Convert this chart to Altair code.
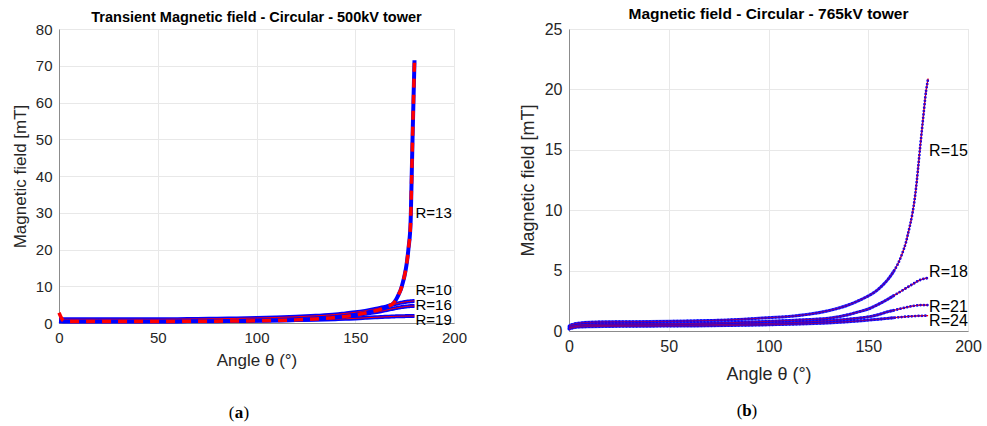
import altair as alt
import pandas as pd

# ---------------- data ----------------
ANG = [0, 1, 2, 3, 5, 10, 20, 30, 40, 50, 60, 70, 80, 90, 100, 110, 120, 130, 140,
       145, 150, 155, 160, 163, 165, 167, 169, 170, 171, 172, 173, 174, 175, 176, 177,
       178, 178.5, 179, 179.5, 180]

# (a) 500 kV tower
A500_R13_BLUE = [0.5, 0.45, 0.42, 0.4, 0.4, 0.4, 0.4, 0.4, 0.4, 0.42, 0.44, 0.46, 0.5, 0.55, 0.6,
                 0.7, 0.85, 1.1, 1.5, 1.8, 2.2, 2.7, 3.3, 3.8, 4.2, 4.6, 5.2,
                 5.8, 6.7, 7.8, 9.0, 10.8, 13.0, 16.0, 20.5, 27.0, 38.0, 50.0, 61.0, 71.5]
A500_R13_RED = [2.8, 1.6, 0.7, 0.45, 0.4, 0.4, 0.4, 0.4, 0.4, 0.42, 0.44, 0.46, 0.5, 0.55, 0.6,
                0.7, 0.85, 1.1, 1.5, 1.8, 2.2, 2.7, 3.3, 3.8, 4.2, 4.6, 5.2,
                5.8, 6.7, 7.8, 9.0, 10.8, 13.0, 16.0, 20.5, 27.0, 38.0, 50.0, 61.0, 71.5]
A500_R10 = [1.0, 1.0, 1.0, 1.0, 1.0, 1.0, 1.0, 1.0, 1.0, 1.0, 1.05, 1.1, 1.15, 1.25, 1.35,
            1.5, 1.7, 1.95, 2.3, 2.6, 2.9, 3.3, 3.8, 4.15, 4.4, 4.7, 5.0,
            5.1, 5.25, 5.4, 5.5, 5.6, 5.7, 5.8, 5.85, 5.9, 5.95, 5.95, 6.0, 6.0]
A500_R16 = [0.7, 0.7, 0.7, 0.7, 0.7, 0.7, 0.7, 0.7, 0.71, 0.72, 0.74, 0.77, 0.81, 0.87, 0.95,
            1.05, 1.2, 1.4, 1.7, 1.9, 2.15, 2.5, 2.9, 3.2, 3.45, 3.65, 3.9,
            4.0, 4.1, 4.2, 4.3, 4.35, 4.45, 4.5, 4.55, 4.6, 4.6, 4.6, 4.6, 4.6]
A500_R19 = [0.5, 0.5, 0.5, 0.5, 0.5, 0.5, 0.5, 0.5, 0.5, 0.5, 0.51, 0.53, 0.56, 0.6, 0.65,
            0.72, 0.8, 0.9, 1.05, 1.15, 1.25, 1.4, 1.55, 1.62, 1.68, 1.73, 1.78,
            1.8, 1.82, 1.84, 1.85, 1.86, 1.87, 1.88, 1.89, 1.9, 1.9, 1.9, 1.9, 1.9]

# (b) 765 kV tower
A765_R15 = [0.4, 0.5, 0.55, 0.6, 0.65, 0.72, 0.76, 0.77, 0.78, 0.8, 0.83, 0.87, 0.92, 1.0, 1.1,
            1.2, 1.38, 1.68, 2.15, 2.5, 2.9, 3.45, 4.3, 5.0, 5.6, 6.4, 7.4,
            8.1, 8.8, 9.6, 10.6, 11.9, 13.5, 15.2, 16.8, 18.4, 19.2, 19.9, 20.4, 20.9]
A765_R18 = [0.3, 0.38, 0.42, 0.45, 0.5, 0.55, 0.57, 0.58, 0.59, 0.6, 0.62, 0.65, 0.69, 0.74, 0.8,
            0.87, 0.95, 1.05, 1.35, 1.58, 1.82, 2.2, 2.65, 2.95, 3.15, 3.35, 3.55,
            3.65, 3.75, 3.85, 3.95, 4.05, 4.15, 4.22, 4.28, 4.33, 4.35, 4.36, 4.37, 4.37]
A765_R21 = [0.2, 0.28, 0.32, 0.35, 0.4, 0.44, 0.46, 0.47, 0.48, 0.49, 0.5, 0.52, 0.55, 0.58, 0.62,
            0.68, 0.75, 0.85, 0.98, 1.06, 1.17, 1.35, 1.6, 1.72, 1.8, 1.88, 1.95,
            2.0, 2.03, 2.06, 2.09, 2.11, 2.13, 2.14, 2.15, 2.15, 2.15, 2.15, 2.15, 2.15]
A765_R24 = [0.15, 0.22, 0.26, 0.3, 0.33, 0.36, 0.38, 0.39, 0.4, 0.41, 0.42, 0.43, 0.45, 0.48, 0.51,
            0.55, 0.6, 0.67, 0.77, 0.83, 0.9, 0.97, 1.05, 1.1, 1.13, 1.16, 1.19,
            1.2, 1.21, 1.22, 1.23, 1.24, 1.25, 1.26, 1.26, 1.27, 1.27, 1.27, 1.27, 1.27]

LEFT_LABELS = ["R=13", "R=10", "R=16", "R=19"]
LEFT_LABEL_Y = [30, 9.0, 4.9, 0.8]
RIGHT_LABELS = ["R=15", "R=18", "R=21", "R=24"]
RIGHT_LABEL_Y = [14.9, 4.9, 1.95, 0.85]

LEFT_TITLE = "Transient Magnetic field - Circular - 500kV tower"
RIGHT_TITLE = "Magnetic field - Circular - 765kV tower"
X_TITLE = "Angle θ (°)"
Y_TITLE = "Magnetic field [mT]"
X_TICKS = [0, 50, 100, 150, 200]
LEFT_Y_TICKS = [0, 10, 20, 30, 40, 50, 60, 70, 80]
RIGHT_Y_TICKS = [0, 5, 10, 15, 20, 25]

BLUE = "#0000ff"
RED = "#ff0000"
FONT = "Liberation Sans"


def long_df(series):
    rows = []
    for name, vals in series.items():
        for a, v in zip(ANG, vals):
            rows.append({"angle": a, "value": v, "R": name})
    return pd.DataFrame(rows)


def caption(letter, cx, cy):
    one = pd.DataFrame({"k": [0]})
    lp = alt.Chart(one).mark_text(text="(", font="Liberation Serif", fontSize=17,
                                  align="right", baseline="middle", color="black").encode(
        x=alt.value(cx - 4.5), y=alt.value(cy))
    lt = alt.Chart(one).mark_text(text=letter, font="Liberation Serif", fontSize=17,
                                  fontWeight="bold", align="center", baseline="middle",
                                  color="black").encode(x=alt.value(cx), y=alt.value(cy))
    rp = alt.Chart(one).mark_text(text=")", font="Liberation Serif", fontSize=17,
                                  align="left", baseline="middle", color="black").encode(
        x=alt.value(cx + 4.5), y=alt.value(cy))
    return [lp, lt, rp]


def axes(ymax, yticks, lfs, tfs, xtp, ytp):
    common = dict(labelFont=FONT, labelFontSize=lfs, labelColor="#262626", labelPadding=7,
                  titleFont=FONT, titleFontSize=tfs, titleFontWeight="normal",
                  titleColor="#262626", gridColor="#e8e8e8", domainColor="#8c8c8c",
                  ticks=False, labelFlush=False, labelOverlap=False)
    x = alt.X("angle:Q", scale=alt.Scale(domain=[0, 200], nice=False),
              axis=alt.Axis(values=X_TICKS, title=X_TITLE, titlePadding=xtp, **common))
    y = alt.Y("value:Q", scale=alt.Scale(domain=[0, ymax], nice=False),
              axis=alt.Axis(values=yticks, title=Y_TITLE, titlePadding=ytp, **common))
    return x, y


# ---------------- left panel ----------------
LW, LH = 395, 294
lx, ly = axes(80, LEFT_Y_TICKS, 15, 17, 7, 6)
left_blue = long_df({"R=10": A500_R10, "R=16": A500_R16, "R=19": A500_R19})
left_red_thin = long_df({"R=10": A500_R10, "R=16": A500_R16, "R=19": A500_R19})
left_blue13 = long_df({"R=13": A500_R13_BLUE})
left_red_dash = long_df({"R=13": A500_R13_RED})
left_lab = pd.DataFrame({"label": LEFT_LABELS, "value": LEFT_LABEL_Y, "angle": [180] * 4})

l1 = alt.Chart(left_blue).mark_line(color=BLUE, strokeWidth=4, interpolate="monotone").encode(
    x=lx, y=ly, detail="R:N", order="angle:Q")
l2 = alt.Chart(left_red_thin).mark_line(color=RED, strokeWidth=1, interpolate="monotone").encode(
    x=lx, y=ly, detail="R:N", order="angle:Q")
l3b = alt.Chart(left_blue13).mark_line(color=BLUE, strokeWidth=4, interpolate="monotone").encode(
    x=lx, y=ly, order="angle:Q")
l3 = alt.Chart(left_red_dash).mark_line(color=RED, strokeWidth=3.5, strokeDash=[9, 7],
                                        interpolate="monotone").encode(
    x=lx, y=ly, order="angle:Q")
l4 = alt.Chart(left_lab).mark_text(align="left", baseline="middle", dx=1, fontSize=15,
                                   font=FONT, color="black").encode(
    x=lx, y=ly, text="label:N")

left = alt.layer(l1, l2, l3b, l3, l4, *caption("a", 180, 384)).properties(
    width=LW, height=LH,
    title=alt.TitleParams(LEFT_TITLE, fontSize=14.5, fontWeight="bold", font=FONT,
                          color="black", offset=-3))

# ---------------- right panel ----------------
RW, RH = 399, 302
rx, ry = axes(25, RIGHT_Y_TICKS, 16, 18, 11, 7)
right_df = long_df({"R=15": A765_R15, "R=18": A765_R18, "R=21": A765_R21, "R=24": A765_R24})
right_lab = pd.DataFrame({"label": RIGHT_LABELS, "value": RIGHT_LABEL_Y, "angle": [180] * 4})

r1 = alt.Chart(right_df).mark_line(color=RED, strokeWidth=1.2, interpolate="monotone").encode(
    x=rx, y=ry, detail="R:N", order="angle:Q")
r_band = alt.Chart(right_df).transform_filter("datum.angle <= 163").mark_line(
    color=BLUE, strokeWidth=3, opacity=0.75, interpolate="monotone").encode(
    x=rx, y=ry, detail="R:N", order="angle:Q")
r2 = alt.Chart(right_df).mark_line(color=BLUE, strokeWidth=2.8, strokeDash=[0, 3.4],
                                   strokeCap="round", interpolate="monotone").encode(
    x=rx, y=ry, detail="R:N", order="angle:Q")
r1b = alt.Chart(right_df).mark_line(color=RED, strokeWidth=0.8, opacity=0.6,
                                    interpolate="monotone").encode(
    x=rx, y=ry, detail="R:N", order="angle:Q")
r3 = alt.Chart(right_lab).mark_text(align="left", baseline="middle", dx=1, fontSize=16,
                                    font=FONT, color="black").encode(
    x=rx, y=ry, text="label:N")

right = alt.layer(r1, r_band, r2, r1b, r3, *caption("b", 178, 382)).properties(
    width=RW, height=RH,
    title=alt.TitleParams(RIGHT_TITLE, fontSize=15.5, fontWeight="bold", font=FONT,
                          color="black", offset=-1))

chart = alt.hconcat(left, right, spacing=50).properties(
    padding={"left": 10, "top": 6, "right": 5, "bottom": 0},
    background="white"
).configure_view(stroke="#d9d9d9")

chart.save("out.html", embed_options={"renderer": "svg", "actions": False})
